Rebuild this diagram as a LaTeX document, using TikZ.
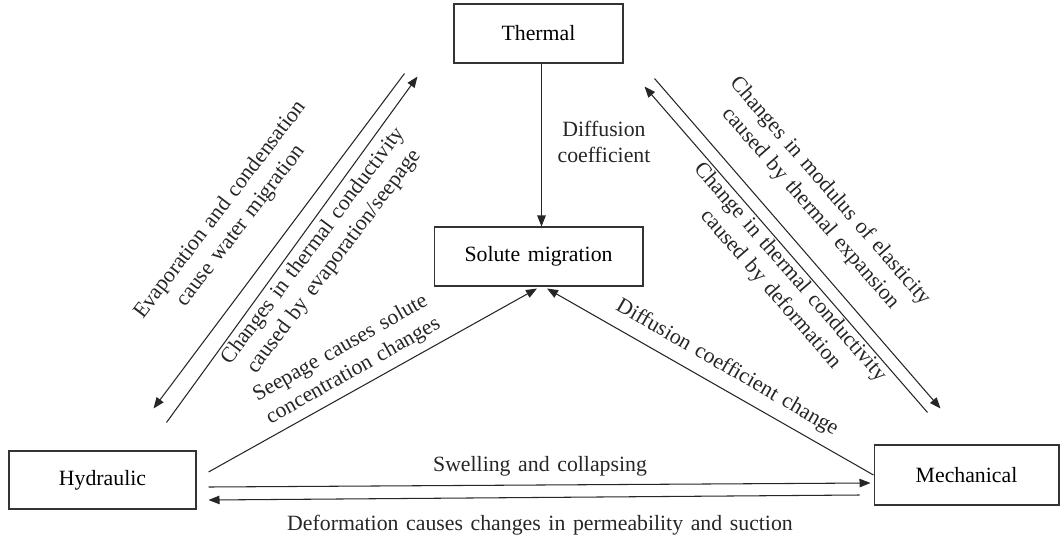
\documentclass[tikz,border=0pt]{standalone}
\usepackage{fontspec}
\setmainfont{Liberation Serif}[WordSpace=1.4]
\usetikzlibrary{arrows.meta, positioning, calc}
\tikzset{
  % Field boxes and coupling arrows
  field/.style={rectangle, draw=black!80, line width=0.6pt, text centered, inner sep=0pt, font=\fontsize{12.4}{14.8}\selectfont},
  coupling/.style={-{Triangle[length=0.22cm, width=0.17cm]}, line width=0.6pt, draw=black!85},
  tag/.style={font=\fontsize{12.4}{14.8}\selectfont, align=center, inner sep=1pt, text=black!85},
}

\begin{document}
\begin{tikzpicture}[x=0.02cm, y=-0.02cm]
    \useasboundingbox (0,0) rectangle (1060,544);

    % Fields
    \node[field, minimum width=3.38cm, minimum height=1.18cm] (thermal) at (538.5,33.5) {Thermal};
    \node[field, minimum width=4.18cm, minimum height=1.18cm] (solute) at (538.5,256.5) {Solute migration};
    \node[field, minimum width=3.74cm, minimum height=1.16cm] (hydraulic) at (102.5,480) {Hydraulic};
    \node[field, minimum width=3.70cm, minimum height=1.20cm] (mechanical) at (966.5,475) {Mechanical};

    % Thermal -> solute
    \draw[coupling] ([shift={(3,0)}]thermal.south) -- ([shift={(3,0)}]solute.north);
    \node[tag] (diffcoef) at (604,142) {Diffusion\\coefficient};

    % Thermal <-> hydraulic
    \draw[coupling] ([shift={(-49,10)}]thermal.south west) -- ([shift={(-43,-42)}]hydraulic.north east);
    \draw[coupling] ([shift={(-30,-28)}]hydraulic.north east) -- ([shift={(-36,13)}]thermal.south west);
    \node[tag, rotate=52.5] (evap) at (231,218) {Evaporation and condensation\\cause water migration};
    \node[tag, rotate=53] (condth) at (324,254) {Changes in thermal conductivity\\caused by evaporation/seepage};

    % Thermal <-> mechanical
    \draw[coupling] ([shift={(31,15)}]thermal.south east) -- ([shift={(67,-36)}]mechanical.north west);
    \draw[coupling] ([shift={(54,-32)}]mechanical.north west) -- ([shift={(21,23)}]thermal.south east);
    \node[tag, rotate=-49] (modulus) at (820,200) {Changes in modulus of elasticity\\caused by thermal expansion};
    \node[tag, rotate=-49] (condmech) at (780,281) {Change in thermal conductivity\\caused by deformation};

    % Hydraulic, mechanical -> solute
    \draw[coupling] ([shift={(12,-8)}]hydraulic.east) -- ([shift={(-1.5,2)}]solute.south);
    \draw[coupling] (mechanical.west) -- ([shift={(8.5,2)}]solute.south);
    \node[tag, rotate=29.5] (seepage) at (347,360) {Seepage causes solute\\concentration changes};
    \node[tag, rotate=-30] (diffchange) at (727,368) {Diffusion coefficient change};

    % Hydraulic <-> mechanical
    \draw[coupling] ([shift={(12,7)}]hydraulic.east) -- ([shift={(-3,8)}]mechanical.west);
    \draw[coupling] ([shift={(-14,20)}]mechanical.west) -- ([shift={(12,20)}]hydraulic.east);
    \node[tag] (swelling) at (540,466) {Swelling and collapsing};
    \node[tag] (deform) at (540,525) {Deformation causes changes in permeability and suction};
\end{tikzpicture}
\end{document}
